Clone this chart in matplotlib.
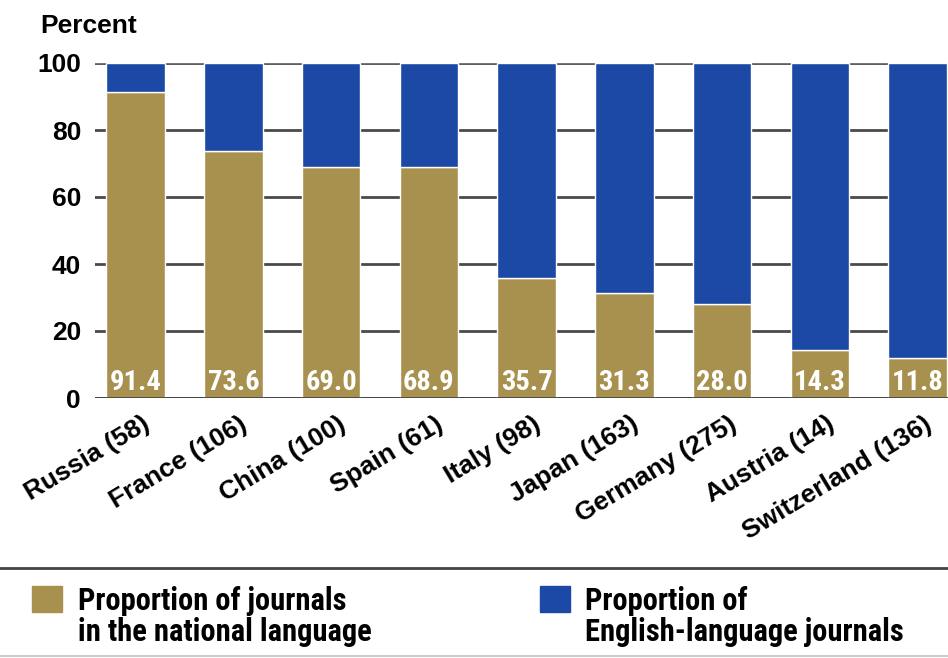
import matplotlib.pyplot as plt
from matplotlib.patches import Rectangle
from matplotlib.lines import Line2D
from matplotlib.transforms import ScaledTranslation

countries = ['Russia (58)', 'France (106)', 'China (100)', 'Spain (61)', 'Italy (98)',
             'Japan (163)', 'Germany (275)', 'Austria (14)', 'Switzerland (136)']
national = [91.4, 73.6, 69.0, 68.9, 35.7, 31.3, 28.0, 14.3, 11.8]
english = [100 - v for v in national]

gold = '#a8914f'
blue = '#1c48a6'
narrow = ['Roboto Condensed', 'Liberation Sans']
wide = ['Liberation Sans', 'DejaVu Sans']

fig = plt.figure(figsize=(9.48, 6.58), dpi=100)
ax = fig.add_axes([95 / 948, 1 - 398 / 658, 853 / 948, 335 / 658])

x = list(range(len(countries)))
ax.bar(x, national, width=0.6, color=gold, edgecolor='white', linewidth=1, zorder=2)
ax.bar(x, english, width=0.6, bottom=national, color=blue, edgecolor='white', linewidth=1, zorder=2)

for xi, v in zip(x, national):
    ax.text(xi, 2.4, f'{v:.1f}', ha='center', va='baseline', color='white',
            fontsize=20.5, fontweight='bold', family=narrow, zorder=3)

ax.set_xlim(-0.415, 8.31)
ax.set_ylim(0, 100)
ax.set_yticks([0, 20, 40, 60, 80, 100])
ax.yaxis.grid(True, color='#4a4a4a', linewidth=2, zorder=0)
ax.set_axisbelow(True)
ax.axhline(0, color='#444444', linewidth=2, zorder=4)
ax.axhline(100, color='#777777', linewidth=1.5, zorder=1)
for s in ax.spines.values():
    s.set_visible(False)
ax.tick_params(axis='both', length=0)
ax.tick_params(axis='y', pad=10)

for lab in ax.get_yticklabels():
    lab.set_fontsize(19)
    lab.set_fontweight('bold')
    lab.set_family(wide)

ax.set_xticks(x)
ax.set_xticklabels(countries, rotation=31, ha='right', rotation_mode='anchor',
                   fontsize=19, fontweight='bold', family=wide)
ax.tick_params(axis='x', pad=10)
shift = ScaledTranslation(0.06, 0, fig.dpi_scale_trans)
for lab in ax.get_xticklabels():
    lab.set_transform(lab.get_transform() + shift)

fig.text(40 / 948, 1 - 33 / 658, 'Percent', fontsize=19, fontweight='bold',
         family=wide, va='baseline')

# legend strip below the chart
fig.add_artist(Line2D([0, 1], [1 - 568 / 658, 1 - 568 / 658], color='#444444', linewidth=2))
fig.add_artist(Line2D([0, 1], [1 - 656 / 658, 1 - 656 / 658], color='#cccccc', linewidth=1.5))
fig.add_artist(Rectangle((32 / 948, 1 - 612 / 658), 30 / 948, 26 / 658, color=gold))
fig.add_artist(Rectangle((540 / 948, 1 - 612 / 658), 30 / 948, 26 / 658, color=blue))
fig.text(78 / 948, 1 - 586 / 658, 'Proportion of journals\nin the national language',
         fontsize=22, fontweight='bold', family=narrow, va='top', linespacing=1.03)
fig.text(585 / 948, 1 - 586 / 658, 'Proportion of\nEnglish-language journals',
         fontsize=22, fontweight='bold', family=narrow, va='top', linespacing=1.03)

fig.savefig('out.png', dpi=100)
